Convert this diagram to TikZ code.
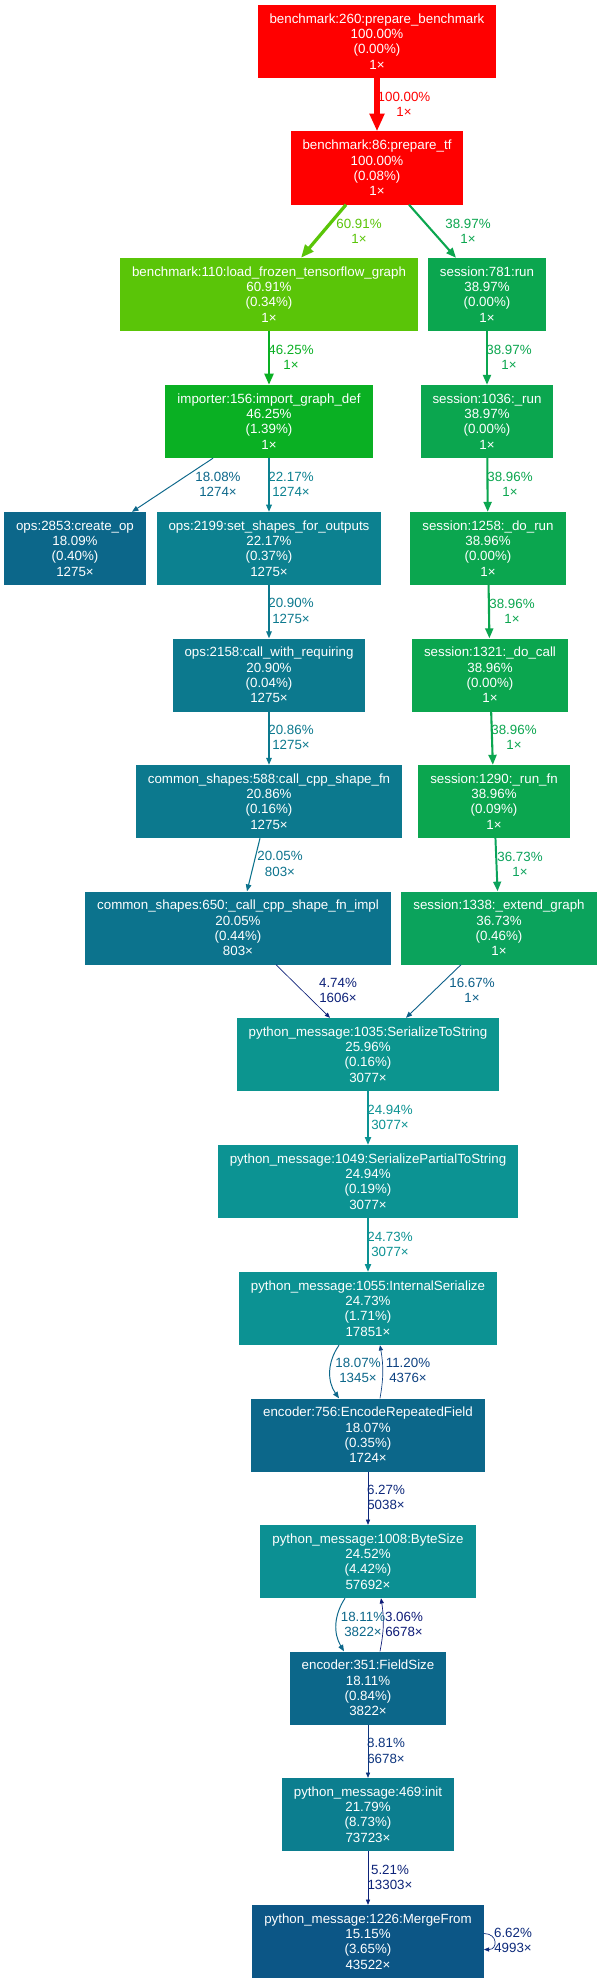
\documentclass[tikz,border=0pt]{standalone}
\usepackage{fontspec}
\setmainfont{Liberation Sans}
\usetikzlibrary{arrows.meta}
\definecolor{cRed}{RGB}{255,0,0}
\definecolor{cLime}{RGB}{90,197,8}
\definecolor{cGrn}{RGB}{10,176,35}
\definecolor{cSess}{RGB}{11,166,79}
\definecolor{cExt}{RGB}{11,163,92}
\definecolor{cSer}{RGB}{12,149,143}
\definecolor{cPart}{RGB}{12,147,147}
\definecolor{cInt}{RGB}{12,146,147}
\definecolor{cByte}{RGB}{12,144,147}
\definecolor{cShp}{RGB}{12,129,144}
\definecolor{cInit}{RGB}{12,126,143}
\definecolor{cReq}{RGB}{12,121,142}
\definecolor{cImpl}{RGB}{12,115,141}
\definecolor{cOp}{RGB}{12,103,138}
\definecolor{cMrg}{RGB}{12,86,134}
\definecolor{cE1667}{RGB}{12,95,136}
\definecolor{cE1120}{RGB}{13,65,129}
\definecolor{cE0881}{RGB}{13,53,126}
\definecolor{cE0662}{RGB}{13,42,123}
\definecolor{cE0627}{RGB}{13,40,123}
\definecolor{cE0521}{RGB}{13,35,121}
\definecolor{cE0474}{RGB}{13,33,121}
\definecolor{cE0306}{RGB}{13,26,119}
\begin{document}
\begin{tikzpicture}[x=1pt,y=-1pt,every node/.style={font=\fontsize{13.33}{15.3}\selectfont},
  fn/.style={fill=#1,text=white,minimum height=73pt,inner xsep=12pt,inner ysep=0pt,align=center},
  elab/.style={text=#1,align=center,inner sep=0pt},
  call/.style n args={3}{draw=#1,line width=#2pt,-{Triangle[length=#3pt 0.8,width'=0pt 0.8]}}]
\path[use as bounding box,fill=white] (0,0) rectangle (599,1983);
\node[fn=cRed] (bench) at (377,41.5) {benchmark:260:prepare\_benchmark\\100.00\%\\(0.00\%)\\1×};
\node[fn=cRed] (prep) at (377,168) {benchmark:86:prepare\_tf\\100.00\%\\(0.08\%)\\1×};
\node[fn=cLime] (load) at (269,294.5) {benchmark:110:load\_frozen\_tensorflow\_graph\\60.91\%\\(0.34\%)\\1×};
\node[fn=cSess] (run) at (487,294.5) {session:781:run\\38.97\%\\(0.00\%)\\1×};
\node[fn=cGrn] (imp) at (269,421.5) {importer:156:import\_graph\_def\\46.25\%\\(1.39\%)\\1×};
\node[fn=cSess] (srun) at (487,421.5) {session:1036:\_run\\38.97\%\\(0.00\%)\\1×};
\node[fn=cOp] (createop) at (75,548.5) {ops:2853:create\_op\\18.09\%\\(0.40\%)\\1275×};
\node[fn=cShp] (setshp) at (269,548.5) {ops:2199:set\_shapes\_for\_outputs\\22.17\%\\(0.37\%)\\1275×};
\node[fn=cSess] (dorun) at (488,548.5) {session:1258:\_do\_run\\38.96\%\\(0.00\%)\\1×};
\node[fn=cReq] (callreq) at (269,675) {ops:2158:call\_with\_requiring\\20.90\%\\(0.04\%)\\1275×};
\node[fn=cSess] (docall) at (490,675) {session:1321:\_do\_call\\38.96\%\\(0.00\%)\\1×};
\node[fn=cReq] (cpp588) at (269,801.5) {common\_shapes:588:call\_cpp\_shape\_fn\\20.86\%\\(0.16\%)\\1275×};
\node[fn=cSess] (runfn) at (494,801.5) {session:1290:\_run\_fn\\38.96\%\\(0.09\%)\\1×};
\node[fn=cImpl] (cpp650) at (238,928) {common\_shapes:650:\_call\_cpp\_shape\_fn\_impl\\20.05\%\\(0.44\%)\\803×};
\node[fn=cExt] (extend) at (499,928) {session:1338:\_extend\_graph\\36.73\%\\(0.46\%)\\1×};
\node[fn=cSer] (ser) at (368,1054.5) {python\_message:1035:SerializeToString\\25.96\%\\(0.16\%)\\3077×};
\node[fn=cPart] (serpart) at (368,1181.5) {python\_message:1049:SerializePartialToString\\24.94\%\\(0.19\%)\\3077×};
\node[fn=cInt] (intser) at (368,1308.5) {python\_message:1055:InternalSerialize\\24.73\%\\(1.71\%)\\17851×};
\node[fn=cOp] (encrep) at (368,1435) {encoder:756:EncodeRepeatedField\\18.07\%\\(0.35\%)\\1724×};
\node[fn=cByte] (bytesz) at (368,1561.5) {python\_message:1008:ByteSize\\24.52\%\\(4.42\%)\\57692×};
\node[fn=cOp] (fldsz) at (368,1688) {encoder:351:FieldSize\\18.11\%\\(0.84\%)\\3822×};
\node[fn=cInit] (init) at (368,1814.5) {python\_message:469:init\\21.79\%\\(8.73\%)\\73723×};
\node[fn=cMrg] (merge) at (368,1941.5) {python\_message:1226:MergeFrom\\15.15\%\\(3.65\%)\\43522×};
\draw[call={cRed}{5.33}{13.3}] (bench) -- (prep);
\draw[call={cLime}{3.25}{10.4}] ([xshift=-31pt]prep.south) -- ([xshift=32pt]load.north);
\draw[call={cSess}{2.08}{8.3}] ([xshift=32pt]prep.south) -- ([xshift=-31pt]run.north);
\draw[call={cGrn}{2.47}{9.1}] (load) -- (imp);
\draw[call={cSess}{2.08}{8.3}] (run) -- (srun);
\draw[call={cOp}{0.96}{5.7}] ([xshift=-56pt]imp.south) -- ([xshift=57pt]createop.north);
\draw[call={cShp}{1.18}{6.3}] (imp) -- (setshp);
\draw[call={cSess}{2.08}{8.3}] (srun) -- (dorun);
\draw[call={cReq}{1.11}{6.1}] (setshp) -- (callreq);
\draw[call={cSess}{2.08}{8.3}] (dorun) -- (docall);
\draw[call={cReq}{1.11}{6.1}] (callreq) -- (cpp588);
\draw[call={cSess}{2.08}{8.3}] (docall) -- (runfn);
\draw[call={cImpl}{1.07}{6}] ([xshift=-9pt]cpp588.south) -- ([xshift=9pt]cpp650.north);
\draw[call={cExt}{1.96}{8.1}] (runfn) -- (extend);
\draw[call={cE0474}{0.67}{4.7}] ([xshift=38pt]cpp650.south) -- ([xshift=-38pt]ser.north);
\draw[call={cE1667}{0.89}{5.4}] ([xshift=-38pt]extend.south) -- ([xshift=38pt]ser.north);
\draw[call={cPart}{1.33}{6.7}] (ser) -- (serpart);
\draw[call={cInt}{1.32}{6.6}] (serpart) -- (intser);
\draw[call={cOp}{0.96}{5.7}] ([xshift=-29pt]intser.south) to[bend right=35] ([xshift=-29pt]encrep.north);
\draw[call={cE1120}{0.67}{4.7}] ([xshift=12pt]encrep.north) to[bend right=10] ([xshift=12pt]intser.south);
\draw[call={cE0627}{0.67}{4.7}] (encrep) -- (bytesz);
\draw[call={cOp}{0.97}{5.7}] ([xshift=-23pt]bytesz.south) to[bend right=32] ([xshift=-24pt]fldsz.north);
\draw[call={cE0306}{0.67}{4.7}] ([xshift=12pt]fldsz.north) to[bend right=10] ([xshift=13pt]bytesz.south);
\draw[call={cE0881}{0.67}{4.7}] (fldsz) -- (init);
\draw[call={cE0521}{0.67}{4.7}] (init) -- (merge);
\draw[call={cE0662}{0.67}{4.7}] ([yshift=8pt]merge.east) .. controls +(14,0) and +(14,0) .. ([yshift=-8pt]merge.east);
\node[elab=cRed] (l1) at (404,104) {100.00\%\\1×};
\node[elab=cLime] (l2) at (359,231) {60.91\%\\1×};
\node[elab=cSess] (l3) at (468,231) {38.97\%\\1×};
\node[elab=cGrn] (l4) at (291,357.5) {46.25\%\\1×};
\node[elab=cSess] (l5) at (509,357.5) {38.97\%\\1×};
\node[elab=cOp] (l6) at (218,484) {18.08\%\\1274×};
\node[elab=cShp] (l7) at (291,484) {22.17\%\\1274×};
\node[elab=cSess] (l8) at (510,484) {38.96\%\\1×};
\node[elab=cReq] (l9) at (291,611) {20.90\%\\1275×};
\node[elab=cSess] (l10) at (512,611) {38.96\%\\1×};
\node[elab=cReq] (l11) at (291,737.5) {20.86\%\\1275×};
\node[elab=cSess] (l12) at (514,737.5) {38.96\%\\1×};
\node[elab=cImpl] (l13) at (280,864) {20.05\%\\803×};
\node[elab=cExt] (l14) at (520,864) {36.73\%\\1×};
\node[elab=cE0474] (l15) at (338,990.5) {4.74\%\\1606×};
\node[elab=cE1667] (l16) at (472,990.5) {16.67\%\\1×};
\node[elab=cPart] (l17) at (390,1117.5) {24.94\%\\3077×};
\node[elab=cInt] (l18) at (390,1244.5) {24.73\%\\3077×};
\node[elab=cOp] (l19) at (358,1370.5) {18.07\%\\1345×};
\node[elab=cE1120] (l20) at (408,1370.5) {11.20\%\\4376×};
\node[elab=cE0627] (l21) at (386,1497.5) {6.27\%\\5038×};
\node[elab=cOp] (l22) at (363,1624.5) {18.11\%\\3822×};
\node[elab=cE0306] (l23) at (404,1624.5) {3.06\%\\6678×};
\node[elab=cE0881] (l24) at (386,1751) {8.81\%\\6678×};
\node[elab=cE0521] (l25) at (390,1877.5) {5.21\%\\13303×};
\node[elab=cE0662] (l26) at (513,1940.5) {6.62\%\\4993×};
\end{tikzpicture}
\end{document}
